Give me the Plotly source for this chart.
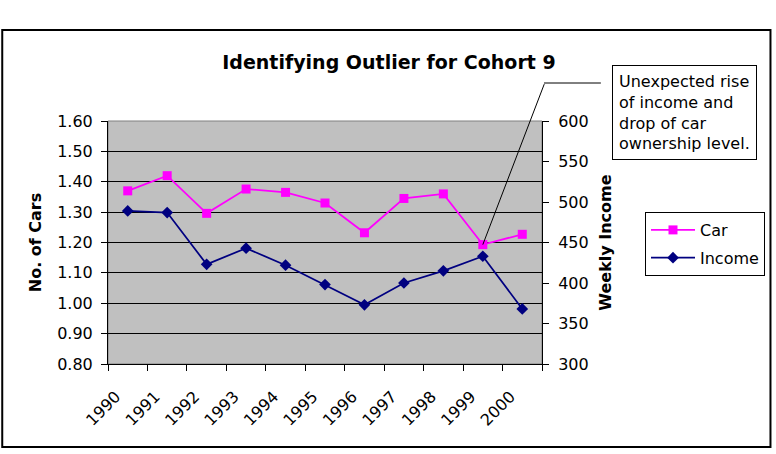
import plotly.graph_objects as go

years = ["1990", "1991", "1992", "1993", "1994", "1995", "1996", "1997", "1998", "1999", "2000"]
car = [1.37, 1.42, 1.296, 1.376, 1.365, 1.33, 1.232, 1.345, 1.36, 1.193, 1.227]
income = [489, 487, 423, 443, 422, 398, 373, 400, 415, 433, 368]

FONT = "DejaVu Sans"
W, H = 776, 454
L, R, T, B = 108, 233, 121, 90
PW, PH = W - L - R, H - T - B

def px(x):
    return (x - L) / PW

def py(y):
    return (H - B - y) / PH

idx = list(range(len(years)))
label_pos = [i - 0.3 for i in idx]

fig = go.Figure()
fig.add_trace(go.Scatter(
    x=idx, y=car, name="Car", mode="lines+markers", legendgroup="a",
    line=dict(color="#FF00FF", width=1.75),
    marker=dict(symbol="square", size=9, color="#FF00FF"),
))
fig.add_trace(go.Scatter(
    x=idx, y=income, name="Income", mode="lines+markers", legendgroup="b",
    yaxis="y2",
    line=dict(color="#000080", width=1.75),
    marker=dict(symbol="diamond", size=9, color="#000080"),
))

fig.update_layout(
    width=W, height=H,
    margin=dict(l=L, r=R, t=T, b=B, pad=0),
    paper_bgcolor="white",
    plot_bgcolor="#C0C0C0",
    font=dict(family=FONT, size=16, color="black"),
    title=dict(text="<b>Identifying Outlier for Cohort 9</b>",
               font=dict(family=FONT, size=19, color="black"),
               x=389 / W, xanchor="center", xref="container",
               y=1 - 62 / H, yanchor="middle", yref="container"),
    xaxis=dict(range=[-0.5, len(years) - 0.5], tickmode="array", tickvals=label_pos,
               ticktext=years, ticks="", showline=True, linecolor="black",
               linewidth=1, showgrid=False, tickangle=-45, tickfont=dict(size=16),
               ticklabelstandoff=16, zeroline=False,
               minor=dict(tickmode="linear", tick0=-0.5, dtick=1, ticks="outside",
                          ticklen=6, tickcolor="black", showgrid=False)),
    yaxis=dict(range=[0.8, 1.6], dtick=0.1, tickformat=".2f", ticks="outside",
               ticklen=6, tickcolor="black", showline=True, linecolor="black",
               linewidth=1, showgrid=True, gridcolor="#000000", gridwidth=1,
               zeroline=False, tickfont=dict(size=16), ticklabelstandoff=5,
               title=dict(text="<b>No. of Cars</b>", font=dict(size=16), standoff=11)),
    yaxis2=dict(range=[300, 600], dtick=50, overlaying="y", side="right",
                ticks="outside", ticklen=6, tickcolor="black", showline=True,
                linecolor="black", linewidth=1, showgrid=False, zeroline=False,
                tickfont=dict(size=16), ticklabelstandoff=6,
                title=dict(text="<b>Weekly Income</b>", font=dict(size=16), standoff=12)),
    legend=dict(x=px(645), y=py(212), xanchor="left", yanchor="top",
                bordercolor="black", borderwidth=1, bgcolor="white",
                font=dict(size=16), tracegroupgap=4, traceorder="grouped",
                itemwidth=44),
    showlegend=True,
)

# plot area frame (top edge grey)
fig.add_shape(type="rect", xref="paper", yref="paper", x0=0, x1=1, y0=0, y1=1,
              line=dict(color="#808080", width=1), layer="below")
# outer chart border
fig.add_shape(type="rect", xref="paper", yref="paper",
              x0=px(2), x1=px(772), y0=py(447), y1=py(30),
              line=dict(color="black", width=2))
# callout horizontal leg
fig.add_shape(type="line", xref="paper", yref="paper",
              x0=px(545), x1=px(602), y0=py(83), y1=py(83),
              line=dict(color="black", width=1))
# callout slanted leg pointing at the 1999 car point
fig.add_annotation(x=idx[9], y=car[9], xref="x", yref="y", text="",
                   showarrow=True, arrowhead=0, arrowwidth=1, arrowcolor="black",
                   ax=62, ay=-162, standoff=0)
# callout text box
fig.add_annotation(xref="paper", yref="paper", x=px(613), y=py(65),
                   xanchor="left", yanchor="top", align="left", showarrow=False,
                   text="Unexpected rise<br>of income and<br>drop of car<br>ownership level.",
                   font=dict(size=16, color="black"),
                   bordercolor="black", borderwidth=1, borderpad=6, bgcolor="white")

fig.write_html("out.html")
